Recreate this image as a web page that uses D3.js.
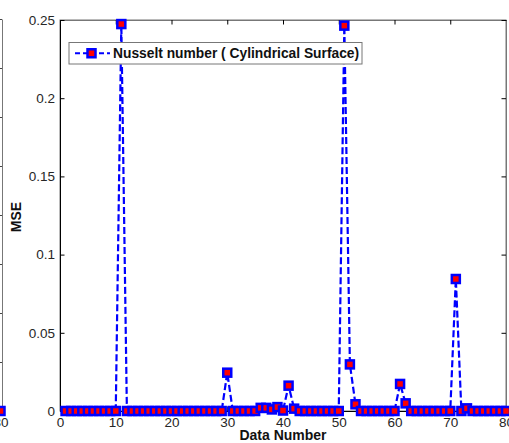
<!DOCTYPE html>
<html>
<head>
<meta charset="utf-8">
<script src="https://cdn.jsdelivr.net/npm/d3@7"></script>
<style>
  body { margin: 0; background: #fff; }
  text { font-family: "Liberation Sans", Arial, sans-serif; }
</style>
</head>
<body>
<div id="chart"></div>
<script>
// MSE per data number, points 1..80
var dataNumber = d3.range(1, 81);
var mse = [
  0,      0,      0,      0,      0,      0,      0,      0,      0,      0,
  0.2474, 0,      0,      0,      0,      0,      0,      0,      0,      0,
  0,      0,      0,      0,      0,      0,      0,      0,      0,      0.0245,
  0,      0,      0,      0,      0,      0.002,  0.002,  0.001,  0.0025, 0.0003,
  0.0162, 0.0015, 0,      0,      0,      0,      0,      0,      0,      0,
  0.2464, 0.0298, 0.0043, 0,      0,      0,      0,      0,      0,      0,
  0.0173, 0.0049, 0,      0,      0,      0,      0,      0,      0,      0,
  0.0844, 0,      0.0017, 0,      0,      0,      0,      0,      0,      0
];
var xTicks = [0, 10, 20, 30, 40, 50, 60, 70, 80];
var yTicks = [0, 0.05, 0.1, 0.15, 0.2, 0.25];
var seriesName = "Nusselt number ( Cylindrical Surface)";

// last point of the neighbouring panel, which sits just off the left edge
var prevLast = [{n: 80, v: 0}];

var width = 509,
    height = 443,
    margin = {top: 20, right: 3, bottom: 32, left: 60},
    innerWidth = width - margin.left - margin.right,
    innerHeight = height - margin.top - margin.bottom;

var points = dataNumber.map(function(n, i) { return {n: n, v: mse[i]}; });

var xScale = d3.scaleLinear().domain([0, 80]).range([0, innerWidth]),
    yScale = d3.scaleLinear().domain([0, 0.25]).range([innerHeight, 0]);

var fmt = function(d) { return String(+d.toFixed(2)); };

var svg = d3.select("#chart").append("svg")
    .attr("width", width)
    .attr("height", height);

// neighbouring panel sliver
var prevX = d3.scaleLinear().domain([0, 80]).range([-innerWidth, 0.5]),
    prevY = d3.scaleLinear().domain([0, 8]).range([margin.top + innerHeight, margin.top - 1]);

svg.append("g")
    .attr("transform", "translate(2,0)")
    .call(d3.axisLeft(prevY).ticks(8).tickSizeInner(4).tickSizeOuter(0).tickFormat(""))
    .call(function(g) {
      g.select(".domain").attr("stroke", "#777");
      g.selectAll(".tick line").attr("stroke", "#444");
    });

svg.append("g")
    .attr("transform", "translate(0," + (margin.top + innerHeight) + ")")
    .call(d3.axisBottom(prevX).tickValues([80]).tickSize(0).tickPadding(6))
    .call(function(g) {
      g.select(".domain").remove();
      g.selectAll("text").attr("font-size", "13.5px").attr("fill", "#262626");
    });

svg.selectAll(".prev-marker")
    .data(prevLast).enter()
    .append("rect")
      .attr("class", "prev-marker")
      .attr("x", function(d) { return prevX(d.n) - 4; })
      .attr("y", function(d) { return margin.top + yScale(d.v) - 4; })
      .attr("width", 8)
      .attr("height", 8)
      .attr("fill", "#ff0000")
      .attr("stroke", "#0000ff")
      .attr("stroke-width", 2.5);

var g = svg.append("g")
    .attr("transform", "translate(" + margin.left + "," + margin.top + ")");

// box
g.append("rect")
    .attr("width", innerWidth)
    .attr("height", innerHeight)
    .attr("fill", "none")
    .attr("stroke", "#777");

// axes, ticks pointing inward on all four sides
g.append("g")
    .attr("class", "axis axis-x")
    .attr("transform", "translate(0," + innerHeight + ")")
    .call(d3.axisBottom(xScale).tickValues(xTicks).tickSizeInner(-4.5).tickSizeOuter(0).tickPadding(6));

g.append("g")
    .attr("class", "axis axis-x-top")
    .call(d3.axisTop(xScale).tickValues(xTicks).tickSizeInner(-4.5).tickSizeOuter(0).tickFormat(""));

g.append("g")
    .attr("class", "axis axis-y")
    .call(d3.axisLeft(yScale).tickValues(yTicks).tickSizeInner(-4.5).tickSizeOuter(0).tickPadding(5).tickFormat(fmt));

g.append("g")
    .attr("class", "axis axis-y-right")
    .attr("transform", "translate(" + innerWidth + ",0)")
    .call(d3.axisRight(yScale).tickValues(yTicks).tickSizeInner(-4.5).tickSizeOuter(0).tickFormat(""));

g.selectAll(".axis text")
    .attr("font-size", "13.5px")
    .attr("fill", "#262626");
g.selectAll(".axis-x .domain, .axis-y .domain").attr("stroke", "#000");
g.selectAll(".axis-x-top .domain, .axis-y-right .domain").attr("stroke", "#777");

// axis titles
svg.append("text")
    .attr("x", margin.left + xScale(40))
    .attr("y", 440)
    .attr("text-anchor", "middle")
    .attr("font-size", "14px")
    .attr("font-weight", "bold")
    .attr("fill", "#111")
    .text("Data Number");

svg.append("text")
    .attr("transform", "translate(21,217) rotate(-90)")
    .attr("text-anchor", "middle")
    .attr("font-size", "14px")
    .attr("font-weight", "bold")
    .attr("fill", "#111")
    .text("MSE");

// series: dashed blue line with red square markers
var line = d3.line()
    .x(function(d) { return xScale(d.n); })
    .y(function(d) { return yScale(d.v); });

g.append("path")
    .datum(points)
    .attr("d", line)
    .attr("fill", "none")
    .attr("stroke", "#0000ff")
    .attr("stroke-width", 2.2)
    .attr("stroke-dasharray", "7,3");

g.selectAll(".marker")
    .data(points).enter()
    .append("rect")
      .attr("class", "marker")
      .attr("x", function(d) { return xScale(d.n) - 4; })
      .attr("y", function(d) { return yScale(d.v) - 4; })
      .attr("width", 8)
      .attr("height", 8)
      .attr("fill", "#ff0000")
      .attr("stroke", "#0000ff")
      .attr("stroke-width", 2.5);

// legend
var legend = svg.append("g").attr("transform", "translate(69,42.5)");
legend.append("rect")
    .attr("width", 293)
    .attr("height", 21.5)
    .attr("fill", "#fff")
    .attr("stroke", "#777");
legend.append("line")
    .attr("x1", 6).attr("x2", 41)
    .attr("y1", 10.75).attr("y2", 10.75)
    .attr("stroke", "#0000ff")
    .attr("stroke-width", 2.2)
    .attr("stroke-dasharray", "5,3");
legend.append("rect")
    .attr("x", 18.5).attr("y", 6.75)
    .attr("width", 8).attr("height", 8)
    .attr("fill", "#ff0000")
    .attr("stroke", "#0000ff")
    .attr("stroke-width", 2.5);
legend.append("text")
    .attr("x", 44)
    .attr("y", 15.5)
    .attr("font-size", "13.8px")
    .attr("font-weight", "bold")
    .attr("fill", "#111")
    .text(seriesName);
</script>
</body>
</html>
